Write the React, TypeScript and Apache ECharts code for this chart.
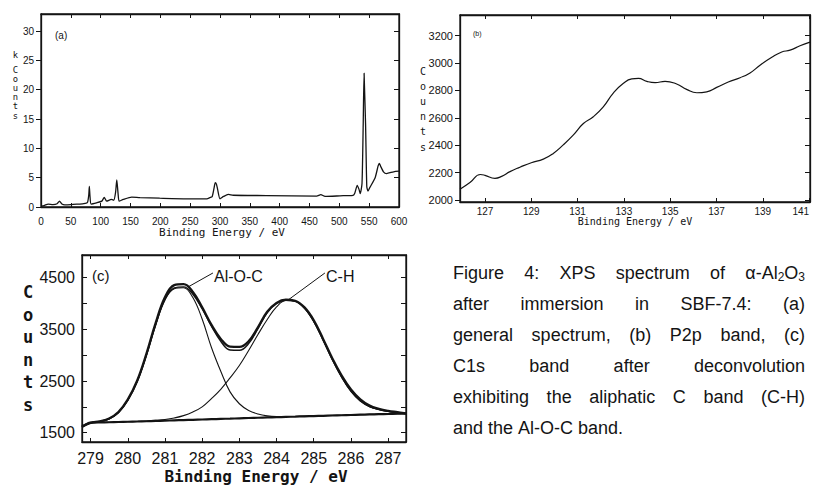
import React, { useEffect, useRef } from "react";
import * as echarts from "echarts";

const INK = "#141414";
const SANS = '"Liberation Sans", Arial, sans-serif';
const MONO = '"DejaVu Sans Mono", "Liberation Mono", monospace';

// ---------- (a) general (survey) spectrum: [binding energy eV, k counts] ----------
const surveySpectrum: [number, number][] = [
  [0, 0.2], [5, 0.25], [12, 0.5], [20, 0.4], [27, 0.55], [31, 1.0], [35, 0.5], [40, 0.35],
  [50, 0.4], [60, 0.5], [65, 0.5], [74, 0.6], [78, 0.8], [80, 2.0], [81, 3.5], [82, 2.0],
  [84, 0.5], [93, 0.7], [102, 1.0], [106, 1.65], [110, 1.0], [118, 1.3], [122, 1.15],
  [125, 2.5], [127, 4.6], [129, 2.5], [131, 1.0], [138, 1.3], [152, 1.7], [166, 1.6],
  [199, 1.5], [244, 1.4], [278, 1.4], [283, 1.6], [287, 1.8], [290, 3.2], [292, 4.15],
  [294, 3.9], [296, 3.0], [300, 1.4], [306, 1.8], [314, 2.15], [322, 2.0], [378, 1.95],
  [462, 1.85], [469, 2.1], [476, 1.8], [501, 1.9], [512, 1.95], [523, 2.0], [526, 2.4],
  [530, 3.7], [533, 3.0], [535, 2.3], [538, 4.0], [540, 14], [541.5, 22.8], [542.5, 22.8],
  [544, 14], [546, 3.5], [548, 2.7], [551, 3.3], [560, 5.0], [565, 7.0], [567, 7.45],
  [569, 7.0], [574, 6.0], [579, 5.7], [591, 6.0], [600, 6.1],
];
const surveyXLabels = [0, 50, 100, 150, 200, 250, 300, 350, 400, 450, 500, 550, 600];
const surveyYLabels = [0, 5, 10, 15, 20, 25, 30];

// ---------- (b) P2p band: [binding energy eV, counts] ----------
const p2pSpectrum: [number, number][] = [
  [125.92, 2078], [126.35, 2127], [126.8, 2186], [127.0, 2180], [127.43, 2158],
  [127.72, 2172], [128.08, 2207], [128.51, 2239], [129.0, 2272], [129.52, 2298],
  [129.95, 2340], [130.38, 2402], [130.82, 2475], [131.25, 2558], [131.68, 2608],
  [132.11, 2680], [132.55, 2782], [132.98, 2852], [133.34, 2884], [133.63, 2888],
  [133.99, 2866], [134.35, 2857], [134.78, 2866], [135.28, 2847], [135.71, 2808],
  [136.15, 2783], [136.58, 2790], [137.01, 2822], [137.51, 2862], [138.02, 2893],
  [138.45, 2928], [138.88, 2984], [139.39, 3042], [139.82, 3081], [140.18, 3094],
  [140.61, 3126], [141.04, 3153],
];
const p2pXLabels = [127, 129, 131, 133, 135, 137, 139, 141];
const p2pYLabels = [2000, 2200, 2400, 2600, 2800, 3000, 3200];

// ---------- (c) C1s band after deconvolution ----------
const c1sEnergy = [
  278.77, 279.0, 279.25, 279.5, 279.75, 280.0, 280.25, 280.5, 280.75, 281.0, 281.25, 281.5,
  281.75, 282.0, 282.25, 282.5, 282.75, 283.0, 283.25, 283.5, 283.75, 284.0, 284.25, 284.5,
  284.75, 285.0, 285.25, 285.5, 285.75, 286.0, 286.25, 286.5, 286.75, 287.0, 287.25, 287.48,
];
const c1sMeasured = [
  1616, 1690, 1720, 1775, 1900, 2140, 2500, 3020, 3620, 4120, 4355, 4375,
  4225, 3925, 3585, 3315, 3165, 3160, 3270, 3540, 3840, 4010, 4072, 4052,
  3925, 3675, 3315, 2935, 2605, 2335, 2145, 2025, 1962, 1922, 1896, 1872,
];
const c1sFit = [
  1616, 1690, 1718, 1770, 1893, 2132, 2490, 3005, 3600, 4085, 4300, 4322,
  4180, 3900, 3560, 3270, 3100, 3095, 3225, 3515, 3825, 4000, 4065, 4045,
  3912, 3655, 3295, 2915, 2575, 2300, 2115, 2005, 1948, 1912, 1889, 1868,
];
const c1sAlOC = [
  1616, 1690, 1716, 1766, 1886, 2122, 2478, 2990, 3580, 4065, 4285, 4305,
  4115, 3700, 3150, 2690, 2290, 2060, 1930, 1862, 1826, 1812, 1810, 1814,
  1820, 1825, 1829, 1835, 1839, 1844, 1849, 1854, 1859, 1863, 1868, 1872,
];
const c1sCH = [
  1616, 1692, 1697, 1701, 1706, 1712, 1718, 1726, 1738, 1755, 1785, 1830,
  1900, 2000, 2160, 2340, 2560, 2800, 3090, 3400, 3690, 3935, 4058, 4045,
  3910, 3655, 3298, 2918, 2578, 2302, 2116, 2004, 1948, 1912, 1889, 1868,
];
const c1sBackground = [
  1616, 1694, 1698, 1702, 1707, 1712, 1717, 1722, 1728, 1733, 1739, 1744,
  1750, 1755, 1761, 1767, 1772, 1778, 1784, 1789, 1795, 1800, 1806, 1811,
  1817, 1822, 1827, 1833, 1838, 1843, 1848, 1853, 1858, 1862, 1867, 1872,
];
const c1sXLabels = [279, 280, 281, 282, 283, 284, 285, 286, 287];
const c1sYLabels = [1500, 2500, 3500, 4500];
const c1sYTicks = [1500, 2000, 2500, 3000, 3500, 4000, 4500];
const c1sAnnotations = [
  { name: "Al-O-C", from: [281.62, 4320], to: [282.29, 4591] },
  { name: "C-H", from: [284.31, 4068], to: [285.3, 4591] },
];

// ---------- caption ----------
const FORMULA = "α-Al2O3";
const captionLines: string[][] = [
  ["Figure", "4:", "XPS", "spectrum", "of", FORMULA],
  ["after", "immersion", "in", "SBF-7.4:", "(a)"],
  ["general", "spectrum,", "(b)", "P2p", "band,", "(c)"],
  ["C1s", "band", "after", "deconvolution"],
  ["exhibiting", "the", "aliphatic", "C", "band", "(C-H)"],
  ["and", "the", "Al-O-C", "band."],
];

const zip = (xs: number[], ys: number[]) => xs.map((x, i) => [x, ys[i]]);

function xAxis(grid: number, min: number, max: number, labels: number[], ticks: number[],
  fontSize: number, fontFamily: string, margin: number, top = false, alignMax = "center") {
  return {
    type: "value", gridIndex: grid, min, max, position: top ? "top" : "bottom",
    axisLine: { show: true, onZero: false, lineStyle: { color: INK, width: 1.3 } },
    splitLine: { show: false },
    axisTick: { show: true, inside: true, length: 4, customValues: ticks, lineStyle: { color: INK, width: 1 } },
    axisLabel: {
      show: !top, customValues: labels, margin, color: INK, fontSize, fontFamily,
      alignMaxLabel: alignMax,
      formatter: (v: number) => String(v),
    },
  };
}

function yAxis(grid: number, min: number, max: number, labels: number[], ticks: number[],
  fontSize: number, fontFamily: string, margin: number, outward: boolean, right = false) {
  return {
    type: "value", gridIndex: grid, min, max, position: right ? "right" : "left",
    axisLine: { show: true, onZero: false, lineStyle: { color: INK, width: 1.3 } },
    splitLine: { show: false },
    axisTick: { show: true, inside: right ? true : !outward, length: 5, customValues: ticks, lineStyle: { color: INK, width: 1 } },
    axisLabel: {
      show: !right, customValues: labels, margin, color: INK, fontSize, fontFamily,
      formatter: (v: number) => String(v),
    },
  };
}

function txt(x: number, y: number, text: string, fontSize: number, fontFamily: string,
  align = "left", fontWeight = "normal") {
  return {
    type: "text", x, y, silent: true,
    style: { text, fontSize, fontFamily, fontWeight, fill: INK, align, verticalAlign: "middle" },
  };
}

function stack(x: number, y0: number, dy: number, letters: string, fontSize: number, fontWeight = "normal") {
  return letters.split("").map((ch, i) => txt(x, y0 + i * dy, ch, fontSize, MONO, "center", fontWeight));
}

function captionGraphics() {
  const ctx = document.createElement("canvas").getContext("2d") as CanvasRenderingContext2D;
  const measure = (t: string, size: number) => {
    ctx.font = `${size}px "Liberation Sans"`;
    return ctx.measureText(t).width;
  };
  const FS = 18, SUB = 12;
  const LEFT = 453, RIGHT = 805, TOP = 273, LH = 31;
  const formulaParts: [string, number, number][] = [["α-Al", FS, 0], ["2", SUB, 4], ["O", FS, 0], ["3", SUB, 4]];
  const formulaWidth = formulaParts.reduce((s, p) => s + measure(p[0], p[1]), 0);
  const els: any[] = [];
  captionLines.forEach((words, li) => {
    const y = TOP + li * LH;
    const widths = words.map((w) => (w === FORMULA ? formulaWidth : measure(w, FS)));
    const total = widths.reduce((a, b) => a + b, 0);
    const justify = li < captionLines.length - 1;
    const gap = justify ? (RIGHT - LEFT - total) / (words.length - 1) : measure(" ", FS);
    let x = LEFT;
    words.forEach((w, i) => {
      if (w === FORMULA) {
        let fx = x;
        formulaParts.forEach(([t, s, dy]) => {
          els.push(txt(fx, y + dy, t, s, SANS));
          fx += measure(t, s);
        });
      } else {
        els.push(txt(x, y, w, FS, SANS));
      }
      x += widths[i] + gap;
    });
  });
  return els;
}

export default function App() {
  const ref = useRef<HTMLDivElement>(null);
  useEffect(() => {
    document.body.style.margin = "0";
    const chart = echarts.init(ref.current!, undefined, { renderer: "svg" });
    const thin = (w: number) => ({ color: INK, width: w });
    const option: any = {
      animation: false,
      backgroundColor: "#ffffff",
      grid: [
        { left: 41, top: 14, width: 358, height: 193, show: true, borderColor: INK, borderWidth: 1.3, outerBoundsMode: "none" },
        { left: 460, top: 15, width: 350, height: 187, show: true, borderColor: INK, borderWidth: 1.3, outerBoundsMode: "none" },
        { left: 82, top: 255, width: 324, height: 187, show: true, borderColor: INK, borderWidth: 1.3, outerBoundsMode: "none" },
      ],
      xAxis: [
        xAxis(0, 0, 600, surveyXLabels, surveyXLabels, 10, SANS, 9),
        xAxis(0, 0, 600, surveyXLabels, surveyXLabels, 10, SANS, 9, true),
        xAxis(1, 125.92, 141.04, p2pXLabels, p2pXLabels, 10, SANS, 4, false, "right"),
        xAxis(1, 125.92, 141.04, p2pXLabels, p2pXLabels, 10, SANS, 4, true),
        xAxis(2, 278.77, 287.48, c1sXLabels, c1sXLabels, 16, SANS, 8),
        xAxis(2, 278.77, 287.48, c1sXLabels, c1sXLabels, 16, SANS, 8, true),
      ],
      yAxis: [
        yAxis(0, 0, 32.9, surveyYLabels, surveyYLabels, 10, SANS, 7, true),
        yAxis(0, 0, 32.9, surveyYLabels, surveyYLabels, 10, SANS, 7, true, true),
        yAxis(1, 1985, 3351, p2pYLabels, p2pYLabels, 11, SANS, 7, true),
        yAxis(1, 1985, 3351, p2pYLabels, p2pYLabels, 11, SANS, 7, true, true),
        yAxis(2, 1320, 4939, c1sYLabels, c1sYTicks, 16, SANS, 7, false),
        yAxis(2, 1320, 4939, c1sYLabels, c1sYTicks, 16, SANS, 7, false, true),
      ],
      series: [
        {
          name: "survey", type: "line", xAxisIndex: 0, yAxisIndex: 0, data: surveySpectrum,
          showSymbol: false, smooth: 0.2, lineStyle: thin(1.3), silent: true,
        },
        {
          name: "P2p", type: "line", xAxisIndex: 2, yAxisIndex: 2, data: p2pSpectrum,
          showSymbol: false, smooth: 0.5, lineStyle: thin(1.2), silent: true,
        },
        {
          name: "background", type: "line", xAxisIndex: 4, yAxisIndex: 4, data: zip(c1sEnergy, c1sBackground),
          showSymbol: false, smooth: 0.3, lineStyle: thin(2.2), silent: true,
        },
        {
          name: "Al-O-C", type: "line", xAxisIndex: 4, yAxisIndex: 4, data: zip(c1sEnergy, c1sAlOC),
          showSymbol: false, smooth: 0.4, lineStyle: thin(1.1), silent: true,
        },
        {
          name: "C-H", type: "line", xAxisIndex: 4, yAxisIndex: 4, data: zip(c1sEnergy, c1sCH),
          showSymbol: false, smooth: 0.4, lineStyle: thin(1.1), silent: true,
        },
        {
          name: "fit", type: "line", xAxisIndex: 4, yAxisIndex: 4, data: zip(c1sEnergy, c1sFit),
          showSymbol: false, smooth: 0.4, lineStyle: thin(1.4), silent: true,
        },
        {
          name: "measured", type: "line", xAxisIndex: 4, yAxisIndex: 4, data: zip(c1sEnergy, c1sMeasured),
          showSymbol: false, smooth: 0.4, lineStyle: thin(2.4), silent: true,
          markLine: {
            silent: true, symbol: ["none", "none"], label: { show: false },
            lineStyle: { color: INK, width: 1, type: "solid" },
            data: c1sAnnotations.map((a) => [{ coord: a.from }, { coord: a.to }]),
          },
        },
      ],
      graphic: {
        elements: [
          txt(15.5, 55, "k", 8.8, MONO, "center"),
          ...stack(15.5, 70, 9.1, "Counts", 8.8),
          ...stack(423, 71, 15.2, "Counts", 10),
          ...stack(28, 292, 22.6, "Counts", 17, "bold"),
          txt(222, 232, "Binding Energy / eV", 11, MONO, "center"),
          txt(635, 221.5, "Binding Energy / eV", 10, MONO, "center"),
          txt(256, 476, "Binding Energy / eV", 16, MONO, "center", "bold"),
          txt(55, 35, "(a)", 10, SANS),
          txt(473, 33, "(b)", 7, SANS),
          txt(92, 275, "(c)", 15, SANS),
          txt(214, 276, c1sAnnotations[0].name, 16, SANS),
          txt(326, 276, c1sAnnotations[1].name, 16, SANS),
          ...captionGraphics(),
        ],
      },
    };
    chart.setOption(option);
    return () => chart.dispose();
  }, []);
  return <div ref={ref} style={{ width: 816, height: 486 }} />;
}
